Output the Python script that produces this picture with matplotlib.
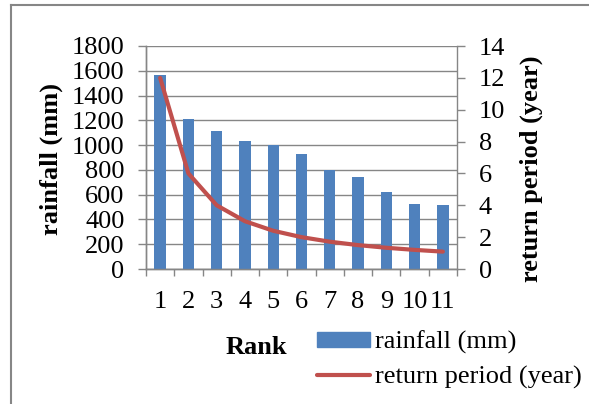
import matplotlib
matplotlib.use("Agg")
import matplotlib.pyplot as plt
from matplotlib.lines import Line2D
from matplotlib.patches import Patch

ranks = [1, 2, 3, 4, 5, 6, 7, 8, 9, 10, 11]
rank_labels = ["1", "2", "3", "4", "5", "6", "7", "8", "9", "10", "11"]
rainfall = [1565, 1208, 1113, 1030, 1000, 928, 800, 745, 620, 522, 519]
return_period = [12.0, 6.0, 4.0, 3.0, 2.4, 2.0, 1.714, 1.5, 1.333, 1.2, 1.091]

plt.rcParams['font.family'] = ['Liberation Serif', 'DejaVu Serif']
FS = 19
W, H = 589, 404
fig = plt.figure(figsize=(W / 100, H / 100), dpi=100)

L, R, T, B = 146, 457, 46, 269
ax = fig.add_axes([L / W, 1 - B / H, (R - L) / W, (B - T) / H])
ax2 = ax.twinx()

gray = '#868686'
blue = '#4F81BD'
red = '#C0504D'

ax.bar(ranks, rainfall, width=0.4, color=blue, zorder=3)
ax2.plot(ranks, return_period, color=red, lw=3, solid_capstyle='round', zorder=4)

ax.set_xlim(0.5, 11.5)
ax.set_ylim(0, 1800)
ax.set_yticks(range(0, 1801, 200))
ax2.set_ylim(0, 14)
ax2.set_yticks(range(0, 15, 2))

ax.set_xticks(ranks)
ax.set_xticklabels(rank_labels)
ax.set_xticks([r + 0.5 for r in [0] + ranks], minor=True)
ax.tick_params(axis='x', which='major', length=0, pad=16, labelsize=FS)
ax.tick_params(axis='x', which='minor', length=5, width=1, color=gray, direction='out')
ax.tick_params(axis='y', length=5.5, width=1, color=gray, pad=10, labelsize=FS)
ax2.tick_params(axis='y', length=5.5, width=1, color=gray, pad=10, labelsize=FS)

ax.grid(axis='y', color=gray, lw=1, zorder=0)
ax.set_axisbelow(True)
for a in (ax, ax2):
    a.spines['top'].set_visible(False)
    for s in ('left', 'bottom', 'right'):
        a.spines[s].set_color(gray)
        a.spines[s].set_linewidth(1)
ax.spines['right'].set_visible(False)
ax.patch.set_visible(False)
ax2.set_zorder(ax.get_zorder() + 1)
ax2.patch.set_visible(False)

fig.text(51 / W, 1 - 159 / H, 'rainfall (mm)', rotation=90, ha='center', va='center',
         fontsize=FS, fontweight='bold')
fig.text(531 / W, 1 - 169 / H, 'return period (year)', rotation=90, ha='center', va='center',
         fontsize=FS, fontweight='bold')
fig.text(256 / W, 1 - 347 / H, 'Rank', ha='center', va='center', fontsize=FS, fontweight='bold')

handles = [Patch(color=blue), Line2D([0], [0], color=red, lw=3, solid_capstyle='round')]
fig.legend(handles, ['rainfall (mm)', 'return period (year)'], loc='upper left',
           bbox_to_anchor=(317 / W, 1 - 331 / H), frameon=False, fontsize=FS,
           handlelength=2.0, handleheight=0.5, handletextpad=0.2, labelspacing=0.42,
           borderpad=0, borderaxespad=0)

fig.add_artist(Line2D([11 / W, 11 / W], [0, 1 - 5 / H], color=gray, lw=1.5, transform=fig.transFigure))
fig.add_artist(Line2D([11 / W, 1], [1 - 5 / H, 1 - 5 / H], color=gray, lw=1.5, transform=fig.transFigure))

fig.savefig('out.png', dpi=100)
